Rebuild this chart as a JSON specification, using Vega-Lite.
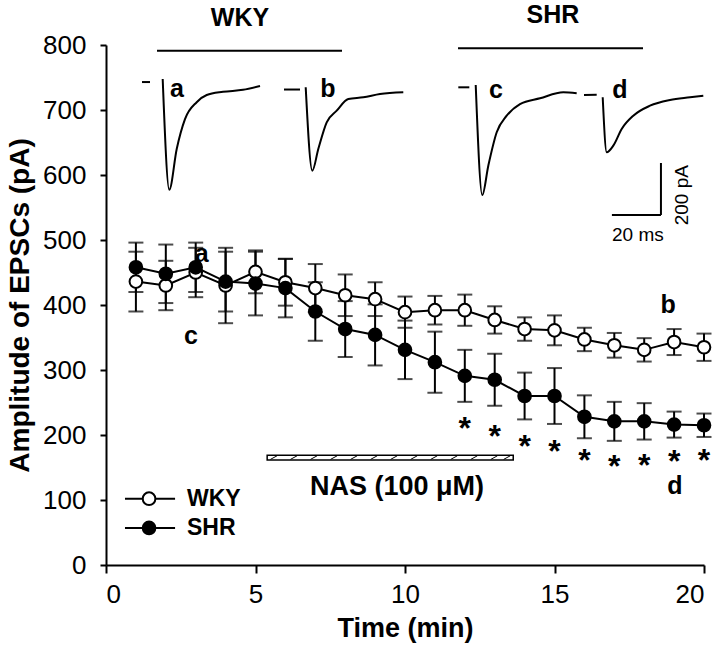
{
  "$schema": "https://vega.github.io/schema/vega-lite/v6.json",
  "width": 598,
  "height": 520,
  "autosize": {"type": "none"},
  "padding": {"left": 106, "top": 45, "right": 16, "bottom": 85},
  "background": "white",
  "config": {
    "view": {"stroke": null},
    "font": "Liberation Sans",
    "axis": {
      "domainColor": "black", "domainWidth": 2, "tickColor": "black", "tickWidth": 2,
      "labelColor": "black", "titleColor": "black", "grid": false,
      "labelFont": "Liberation Sans", "titleFont": "Liberation Sans",
      "labelFontSize": 26, "titleFontSize": 27, "titleFontWeight": "bold"
    }
  },
  "datasets": {
    "series": [
      {"x": 1, "group": "WKY", "y": 436, "lo": 390, "hi": 482},
      {"x": 2, "group": "WKY", "y": 430, "lo": 392, "hi": 468},
      {"x": 3, "group": "WKY", "y": 450, "lo": 412, "hi": 488},
      {"x": 4, "group": "WKY", "y": 430, "lo": 372, "hi": 488},
      {"x": 5, "group": "WKY", "y": 451, "lo": 418, "hi": 484},
      {"x": 6, "group": "WKY", "y": 435, "lo": 399, "hi": 471},
      {"x": 7, "group": "WKY", "y": 426, "lo": 389, "hi": 463},
      {"x": 8, "group": "WKY", "y": 415, "lo": 383, "hi": 447},
      {"x": 9, "group": "WKY", "y": 409, "lo": 383, "hi": 435},
      {"x": 10, "group": "WKY", "y": 389, "lo": 365, "hi": 413},
      {"x": 11, "group": "WKY", "y": 392, "lo": 370, "hi": 414},
      {"x": 12, "group": "WKY", "y": 392, "lo": 368, "hi": 416},
      {"x": 13, "group": "WKY", "y": 377, "lo": 356, "hi": 398},
      {"x": 14, "group": "WKY", "y": 363, "lo": 345, "hi": 381},
      {"x": 15, "group": "WKY", "y": 361, "lo": 338, "hi": 384},
      {"x": 16, "group": "WKY", "y": 347, "lo": 329, "hi": 365},
      {"x": 17, "group": "WKY", "y": 338, "lo": 319, "hi": 357},
      {"x": 18, "group": "WKY", "y": 331, "lo": 313, "hi": 349},
      {"x": 19, "group": "WKY", "y": 343, "lo": 323, "hi": 363},
      {"x": 20, "group": "WKY", "y": 335, "lo": 314, "hi": 356},
      {"x": 1, "group": "SHR", "y": 458, "lo": 420, "hi": 496},
      {"x": 2, "group": "SHR", "y": 448, "lo": 403, "hi": 493},
      {"x": 3, "group": "SHR", "y": 458, "lo": 420, "hi": 496},
      {"x": 4, "group": "SHR", "y": 436, "lo": 390, "hi": 482},
      {"x": 5, "group": "SHR", "y": 433, "lo": 384, "hi": 482},
      {"x": 6, "group": "SHR", "y": 426, "lo": 381, "hi": 471},
      {"x": 7, "group": "SHR", "y": 390, "lo": 345, "hi": 435},
      {"x": 8, "group": "SHR", "y": 363, "lo": 320, "hi": 406},
      {"x": 9, "group": "SHR", "y": 354, "lo": 307, "hi": 401},
      {"x": 10, "group": "SHR", "y": 331, "lo": 286, "hi": 376},
      {"x": 11, "group": "SHR", "y": 312, "lo": 265, "hi": 359},
      {"x": 12, "group": "SHR", "y": 291, "lo": 251, "hi": 331},
      {"x": 13, "group": "SHR", "y": 285, "lo": 245, "hi": 325},
      {"x": 14, "group": "SHR", "y": 260, "lo": 224, "hi": 296},
      {"x": 15, "group": "SHR", "y": 260, "lo": 217, "hi": 303},
      {"x": 16, "group": "SHR", "y": 228, "lo": 195, "hi": 261},
      {"x": 17, "group": "SHR", "y": 221, "lo": 191, "hi": 251},
      {"x": 18, "group": "SHR", "y": 221, "lo": 193, "hi": 249},
      {"x": 19, "group": "SHR", "y": 216, "lo": 196, "hi": 236},
      {"x": 20, "group": "SHR", "y": 215, "lo": 197, "hi": 233}
    ],
    "stars": [
      {"x": 12, "y": 221}, {"x": 13, "y": 209}, {"x": 14, "y": 194},
      {"x": 15, "y": 186}, {"x": 16, "y": 172}, {"x": 17, "y": 163},
      {"x": 18, "y": 165}, {"x": 19, "y": 171}, {"x": 20, "y": 172}
    ],
    "traces": [
      {"seg": "a0", "o": 1, "x": 1.204, "y": 743}, {"seg": "a0", "o": 2, "x": 1.472, "y": 743},
      {"seg": "a1", "o": 1, "x": 1.896, "y": 747.7}, {"seg": "a1", "o": 2, "x": 2.117, "y": 577.4},
      {"seg": "a1", "o": 3, "x": 2.365, "y": 640}, {"seg": "a1", "o": 4, "x": 2.642, "y": 686},
      {"seg": "a1", "o": 5, "x": 3.033, "y": 712}, {"seg": "a1", "o": 6, "x": 3.368, "y": 723},
      {"seg": "a1", "o": 7, "x": 3.913, "y": 728}, {"seg": "a1", "o": 8, "x": 4.582, "y": 731},
      {"seg": "a1", "o": 9, "x": 5.151, "y": 737},
      {"seg": "b0", "o": 1, "x": 5.953, "y": 731.5}, {"seg": "b0", "o": 2, "x": 6.488, "y": 731.5},
      {"seg": "b1", "o": 1, "x": 6.679, "y": 734.9}, {"seg": "b1", "o": 2, "x": 6.9, "y": 606.6},
      {"seg": "b1", "o": 3, "x": 7.1, "y": 640}, {"seg": "b1", "o": 4, "x": 7.381, "y": 681},
      {"seg": "b1", "o": 5, "x": 7.716, "y": 699}, {"seg": "b1", "o": 6, "x": 8.104, "y": 717},
      {"seg": "b1", "o": 7, "x": 8.605, "y": 719.5}, {"seg": "b1", "o": 8, "x": 9.164, "y": 724.6},
      {"seg": "b1", "o": 9, "x": 9.943, "y": 727.2},
      {"seg": "c0", "o": 1, "x": 11.783, "y": 734.9}, {"seg": "c0", "o": 2, "x": 12.151, "y": 734.9},
      {"seg": "c1", "o": 1, "x": 12.365, "y": 738.5}, {"seg": "c1", "o": 2, "x": 12.585, "y": 569.2},
      {"seg": "c1", "o": 3, "x": 12.786, "y": 614.3}, {"seg": "c1", "o": 4, "x": 13.067, "y": 665.7},
      {"seg": "c1", "o": 5, "x": 13.401, "y": 691.2}, {"seg": "c1", "o": 6, "x": 13.846, "y": 709.2},
      {"seg": "c1", "o": 7, "x": 14.515, "y": 718}, {"seg": "c1", "o": 8, "x": 15.294, "y": 727.2},
      {"seg": "c1", "o": 9, "x": 15.742, "y": 725.7},
      {"seg": "d0", "o": 1, "x": 15.987, "y": 723.1}, {"seg": "d0", "o": 2, "x": 16.411, "y": 723.5},
      {"seg": "d1", "o": 1, "x": 16.612, "y": 719.5}, {"seg": "d1", "o": 2, "x": 16.746, "y": 634.9},
      {"seg": "d1", "o": 3, "x": 16.967, "y": 645.1}, {"seg": "d1", "o": 4, "x": 17.247, "y": 670.8},
      {"seg": "d1", "o": 5, "x": 17.635, "y": 691.2}, {"seg": "d1", "o": 6, "x": 18.194, "y": 706.6},
      {"seg": "d1", "o": 7, "x": 18.863, "y": 715.4}, {"seg": "d1", "o": 8, "x": 19.532, "y": 719.5},
      {"seg": "d1", "o": 9, "x": 19.977, "y": 722}
    ],
    "rules": [
      {"x": 1.706, "x2": 7.893, "y": 791, "y2": 791},
      {"x": 11.773, "x2": 17.96, "y": 795, "y2": 795},
      {"x": 18.56, "x2": 18.56, "y": 538.5, "y2": 618.5},
      {"x": 16.92, "x2": 18.56, "y": 538.5, "y2": 538.5},
      {"x": 0.635, "x2": 2.31, "y": 102, "y2": 102},
      {"x": 0.635, "x2": 2.31, "y": 57, "y2": 57}
    ],
    "nasbar": [{"x": 5.39, "x2": 13.62, "y": 161.5, "y2": 169}],
    "hatch": [
      {"x": 5.5, "x2": 5.72, "y": 162.5, "y2": 168}, {"x": 6.17, "x2": 6.39, "y": 162.5, "y2": 168},
      {"x": 6.84, "x2": 7.06, "y": 162.5, "y2": 168}, {"x": 7.51, "x2": 7.73, "y": 162.5, "y2": 168},
      {"x": 8.18, "x2": 8.4, "y": 162.5, "y2": 168}, {"x": 8.85, "x2": 9.07, "y": 162.5, "y2": 168},
      {"x": 9.52, "x2": 9.74, "y": 162.5, "y2": 168}, {"x": 10.19, "x2": 10.41, "y": 162.5, "y2": 168},
      {"x": 10.86, "x2": 11.08, "y": 162.5, "y2": 168}, {"x": 11.53, "x2": 11.75, "y": 162.5, "y2": 168},
      {"x": 12.2, "x2": 12.42, "y": 162.5, "y2": 168}, {"x": 12.87, "x2": 13.09, "y": 162.5, "y2": 168},
      {"x": 13.3, "x2": 13.52, "y": 162.5, "y2": 168}
    ],
    "legendPts": [
      {"x": 1.44, "y": 102, "group": "WKY"},
      {"x": 1.44, "y": 57, "group": "SHR"}
    ],
    "legendText": [
      {"x": 2.71, "y": 102, "text": "WKY"},
      {"x": 2.71, "y": 57, "text": "SHR"}
    ],
    "boldText": [
      {"x": 4.48, "y": 841, "text": "WKY"},
      {"x": 14.95, "y": 846, "text": "SHR"},
      {"x": 2.37, "y": 733, "text": "a"},
      {"x": 7.42, "y": 733, "text": "b"},
      {"x": 13.04, "y": 731, "text": "c"},
      {"x": 17.19, "y": 731, "text": "d"},
      {"x": 3.2, "y": 478, "text": "a"},
      {"x": 2.84, "y": 352, "text": "c"},
      {"x": 18.8, "y": 400, "text": "b"},
      {"x": 19.03, "y": 121, "text": "d"}
    ],
    "nasText": [{"x": 9.73, "y": 120, "text": "NAS (100 μM)"}],
    "scaleText": [{"x": 17.79, "y": 508, "text": "20 ms"}],
    "scaleTextV": [{"x": 19.26, "y": 569, "text": "200 pA"}]
  },
  "encoding": {
    "x": {"field": "x", "type": "quantitative",
      "scale": {"domain": [0, 20], "nice": false},
      "axis": {"title": "Time (min)", "values": [0, 5, 10, 15, 20], "tickSize": 8, "labelPadding": 8, "titlePadding": 8}},
    "y": {"field": "y", "type": "quantitative",
      "scale": {"domain": [0, 800], "nice": false},
      "axis": {"title": "Amplitude of EPSCs (pA)", "titleFontSize": 28, "values": [0, 100, 200, 300, 400, 500, 600, 700, 800], "tickSize": 6, "labelPadding": 14, "titlePadding": 8}}
  },
  "layer": [
    {"data": {"name": "series"}, "mark": {"type": "rule", "color": "black", "strokeWidth": 2},
      "encoding": {"y": {"field": "lo", "type": "quantitative", "title": "Amplitude of EPSCs (pA)"}, "y2": {"field": "hi"}}},
    {"data": {"name": "series"}, "mark": {"type": "tick", "orient": "horizontal", "color": "black", "size": 15, "thickness": 2},
      "encoding": {"y": {"field": "lo", "type": "quantitative", "title": "Amplitude of EPSCs (pA)"}}},
    {"data": {"name": "series"}, "mark": {"type": "tick", "orient": "horizontal", "color": "black", "size": 15, "thickness": 2},
      "encoding": {"y": {"field": "hi", "type": "quantitative", "title": "Amplitude of EPSCs (pA)"}}},
    {"data": {"name": "series"}, "mark": {"type": "line", "color": "black", "strokeWidth": 2},
      "encoding": {"detail": {"field": "group"}}},
    {"data": {"name": "series"}, "mark": {"type": "point", "shape": "circle", "filled": true, "stroke": "black", "strokeWidth": 2, "size": 160, "opacity": 1},
      "encoding": {"fill": {"field": "group", "type": "nominal", "scale": {"domain": ["WKY", "SHR"], "range": ["white", "black"]}, "legend": null},
        "order": {"field": "group", "sort": "descending"}}},
    {"data": {"name": "stars"}, "mark": {"type": "text", "text": "*", "fontSize": 32, "fontWeight": "bold", "baseline": "alphabetic", "dy": 18, "color": "black"}},
    {"data": {"name": "traces"}, "mark": {"type": "line", "color": "black", "strokeWidth": 2, "interpolate": "monotone"},
      "encoding": {"detail": {"field": "seg"}, "order": {"field": "o"}}},
    {"data": {"name": "rules"}, "mark": {"type": "rule", "color": "black", "strokeWidth": 2},
      "encoding": {"x2": {"field": "x2"}, "y2": {"field": "y2"}}},
    {"data": {"name": "nasbar"}, "mark": {"type": "rect", "fill": "white", "stroke": "black", "strokeWidth": 1.5},
      "encoding": {"x2": {"field": "x2"}, "y2": {"field": "y2"}}},
    {"data": {"name": "hatch"}, "mark": {"type": "rule", "color": "black", "strokeWidth": 1},
      "encoding": {"x2": {"field": "x2"}, "y2": {"field": "y2"}}},
    {"data": {"name": "legendPts"}, "mark": {"type": "point", "shape": "circle", "filled": true, "stroke": "black", "strokeWidth": 2, "size": 160, "opacity": 1},
      "encoding": {"fill": {"field": "group", "type": "nominal", "scale": {"domain": ["WKY", "SHR"], "range": ["white", "black"]}, "legend": null}}},
    {"data": {"name": "legendText"}, "mark": {"type": "text", "align": "left", "baseline": "middle", "fontSize": 23, "fontWeight": "bold", "color": "black"},
      "encoding": {"text": {"field": "text"}}},
    {"data": {"name": "boldText"}, "mark": {"type": "text", "align": "center", "baseline": "middle", "fontSize": 25, "fontWeight": "bold", "color": "black"},
      "encoding": {"text": {"field": "text"}}},
    {"data": {"name": "nasText"}, "mark": {"type": "text", "align": "center", "baseline": "middle", "fontSize": 27, "fontWeight": "bold", "color": "black"},
      "encoding": {"text": {"field": "text"}}},
    {"data": {"name": "scaleText"}, "mark": {"type": "text", "align": "center", "baseline": "middle", "fontSize": 19, "color": "black"},
      "encoding": {"text": {"field": "text"}}},
    {"data": {"name": "scaleTextV"}, "mark": {"type": "text", "align": "center", "baseline": "middle", "fontSize": 19, "angle": 270, "color": "black"},
      "encoding": {"text": {"field": "text"}}}
  ]
}
